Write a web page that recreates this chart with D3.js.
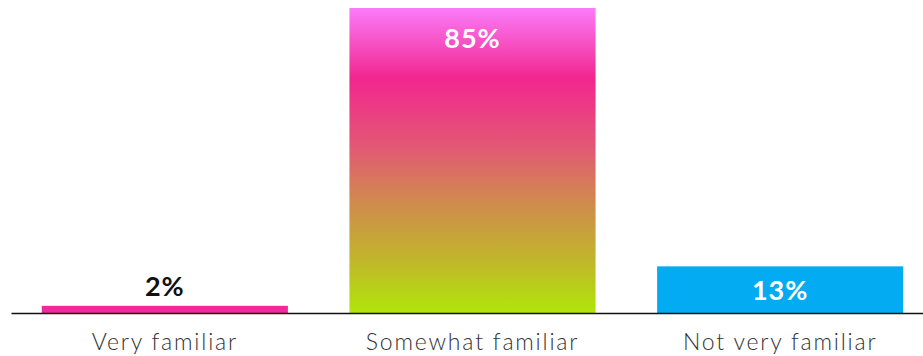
<!DOCTYPE html>
<html>
<head>
<meta charset="utf-8">
<script src="https://cdn.jsdelivr.net/npm/d3@7/dist/d3.min.js"></script>
<style>
  html, body { margin: 0; padding: 0; background: #fff; }
  svg { display: block; }
</style>
</head>
<body>
<svg id="chart" width="923" height="356"></svg>
<script>
// Familiarity survey results
const categories = ["Very familiar", "Somewhat familiar", "Not very familiar"];
const values = [2, 85, 13];
const valueLabels = ["2%", "85%", "13%"];

const svg = d3.select("#chart");
const baseY = 313;

const x = d3.scaleBand()
  .domain(categories)
  .range([11, 934])
  .paddingInner(0.2)
  .paddingOuter(0.1);

const y = d3.scaleLinear()
  .domain([0, 85])
  .range([baseY, 8]);

// Vertical gradient for the middle bar
const defs = svg.append("defs");
const grad = defs.append("linearGradient")
  .attr("id", "midGrad")
  .attr("x1", 0).attr("y1", 0).attr("x2", 0).attr("y2", 1);
[
  [0, "#fb7cfa"],
  [0.23, "#f2268f"],
  [0.45, "#e35775"],
  [0.63, "#d0894f"],
  [0.82, "#c2b42c"],
  [1, "#b0e60a"]
].forEach(([o, c]) => grad.append("stop").attr("offset", o).attr("stop-color", c));

const fills = ["#f5279c", "url(#midGrad)", "#03acf2"];

svg.append("g")
  .selectAll("rect")
  .data(values)
  .join("rect")
  .attr("x", (d, i) => x(categories[i]))
  .attr("width", x.bandwidth())
  .attr("y", d => y(d))
  .attr("height", d => baseY - y(d))
  .attr("fill", (d, i) => fills[i]);

// Baseline axis
const axis = svg.append("g")
  .attr("transform", `translate(0,${baseY})`)
  .call(d3.axisBottom(x).tickSize(0).tickPadding(21));
axis.select(".domain").attr("stroke", "#111").attr("stroke-width", 1.5);
axis.selectAll("text")
  .attr("font-family", "Lato, 'Open Sans', sans-serif")
  .attr("font-weight", 300)
  .attr("font-size", 23)
  .attr("letter-spacing", "1.8px")
  .attr("fill", "#333")
  .attr("dy", "0.71em");

// Value labels: inside tall bars, above very short ones
const barH = d => baseY - y(d);
svg.append("g")
  .selectAll("text")
  .data(values)
  .join("text")
  .attr("x", (d, i) => x(categories[i]) + x.bandwidth() / 2)
  .attr("y", d => barH(d) > 80 ? y(d) + 40 : barH(d) > 30 ? y(d) + barH(d) / 2 + 10 : y(d) - 10)
  .attr("text-anchor", "middle")
  .attr("font-family", "Lato, 'Open Sans', sans-serif")
  .attr("font-weight", 700)
  .attr("font-size", 27)
  .attr("letter-spacing", "1px")
  .attr("fill", d => barH(d) > 30 ? "#fff" : "#111")
  .text((d, i) => valueLabels[i]);
</script>
</body>
</html>
